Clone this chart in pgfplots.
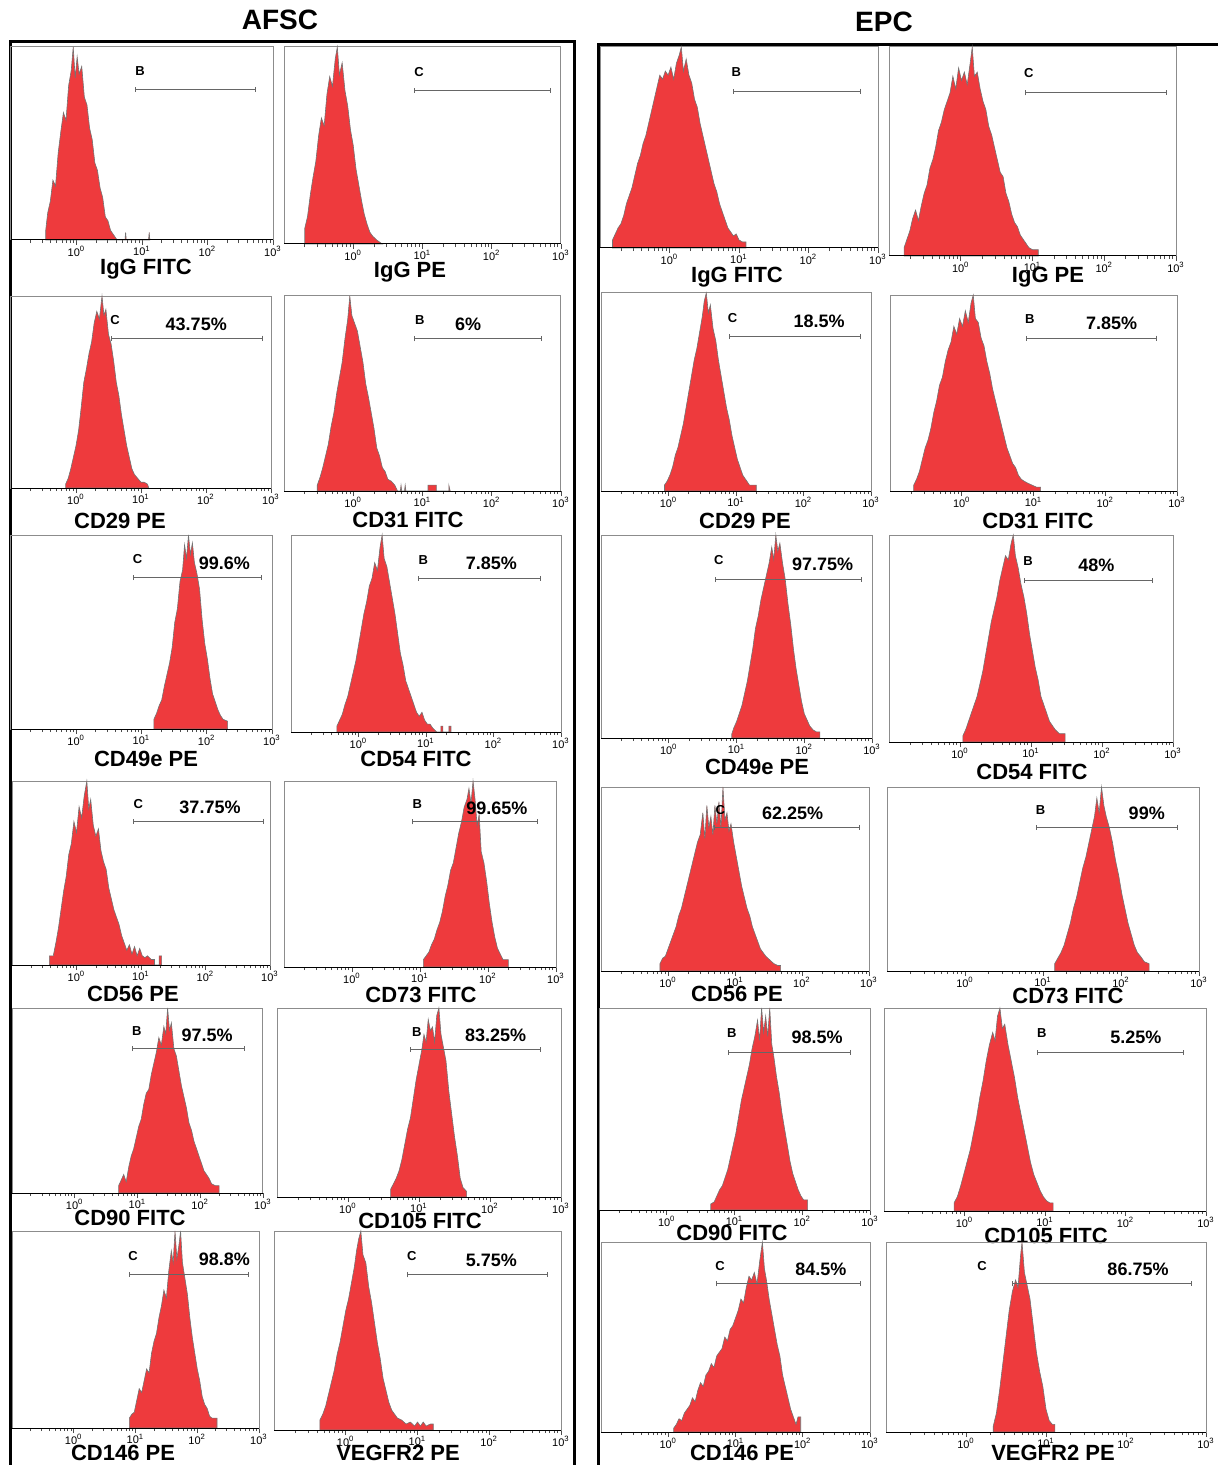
\documentclass[border=0pt]{standalone}
\usepackage{fontspec}
\setmainfont{Liberation Sans}
\usepackage{pgfplots}
\pgfplotsset{compat=1.18}
\usetikzlibrary{arrows.meta}
\definecolor{histred}{HTML}{EE3A3D}

\pgfplotsset{
 facs/.style={scale only axis, anchor=south west, xmin=-1, xmax=3, ymin=0, ymax=1, clip=false,
   xtick={0,1,2,3},
   xticklabels={10\textsuperscript{0},10\textsuperscript{1},10\textsuperscript{2},10\textsuperscript{3}},
   minor xtick={-0.699,-0.523,-0.398,-0.301,-0.222,-0.155,-0.097,-0.046,
     0.301,0.477,0.602,0.699,0.778,0.845,0.903,0.954,
     1.301,1.477,1.602,1.699,1.778,1.845,1.903,1.954,
     2.301,2.477,2.602,2.699,2.778,2.845,2.903,2.954},
   ytick=\empty, tick align=outside, xtick pos=bottom,
   major tick length=2.5pt, minor tick length=1.6pt,
   tick style={black!70, line width=0.4pt},
   axis line style={black!45, line width=0.5pt},
   xticklabel style={font=\fontsize{5.5}{6}\selectfont, inner sep=0.6pt},
 },
 pos/.style n args={4}{at={(\fpeval{#1*0.5}pt,\fpeval{-#4*0.5}pt)},
   width=\fpeval{(#3-#1)*0.5}pt, height=\fpeval{(#4-#2)*0.5}pt},
 hist/.style={sharp plot, fill=histred, draw=black!55, line width=0.3pt, line join=miter},
}
\newcommand{\base}{\draw[black, line width=0.5pt] (rel axis cs:0,0) -- (rel axis cs:1,0);}
\newcommand{\gate}[6]{%
  \draw[black!60, line width=0.5pt, {Bar[width=2.5pt]}-{Bar[width=2.5pt]}] (axis cs:#1,0.78) -- (axis cs:#2,0.78);
  \node[font=\bfseries\fontsize{6.5}{7}\selectfont] at (axis cs:#3,0.875) {#4};
  \node[font=\bfseries\fontsize{9}{10}\selectfont] at (axis cs:#5,0.855) {#6};}
\tikzset{lab/.style={font=\bfseries\fontsize{11}{13}\selectfont}}

\begin{document}
\begin{tikzpicture}[x=0.5pt,y=-0.5pt]
\useasboundingbox (0,0) rectangle (1217,1465);

% ---------- frames and titles
\node[font=\bfseries\fontsize{14}{16}\selectfont] at (280,20) {AFSC};
\node[font=\bfseries\fontsize{14}{16}\selectfont] at (884,22) {EPC};
\draw[line width=1.5pt] (10,1475) -- (10,42) -- (574,42) -- (574,1475);
\draw[line width=1.5pt] (598,1475) -- (598,45) -- (1230,45);

% ================= AFSC =================
% P1 IgG FITC
\begin{axis}[facs, pos={11}{47}{273}{240}]
\addplot[hist] coordinates {(-0.47,0)(-0.47,0.05)(-0.44,0.14)(-0.40,0.20)(-0.36,0.31)(-0.32,0.28)(-0.28,0.45)(-0.24,0.56)(-0.20,0.66)(-0.16,0.62)(-0.12,0.80)(-0.08,0.88)(-0.05,1.00)(-0.02,0.84)(0.01,0.95)(0.04,0.86)(0.08,0.90)(0.12,0.74)(0.16,0.70)(0.20,0.58)(0.24,0.52)(0.28,0.40)(0.32,0.36)(0.36,0.27)(0.40,0.22)(0.44,0.12)(0.48,0.10)(0.52,0.05)(0.56,0.03)(0.62,0)(0.74,0)(0.75,0.04)(0.76,0)(1.10,0)(1.11,0.04)(1.12,0)} \closedcycle;
\base
\gate{0.89}{2.74}{0.97}{B}{2}{}
\end{axis}
\node[lab] at (146,269) {IgG FITC};

% P2 IgG PE
\begin{axis}[facs, pos={284}{47}{561}{244}]
\addplot[hist] coordinates {(-0.70,0)(-0.70,0.08)(-0.66,0.14)(-0.62,0.25)(-0.58,0.34)(-0.54,0.42)(-0.50,0.55)(-0.46,0.64)(-0.42,0.60)(-0.38,0.76)(-0.34,0.85)(-0.30,0.80)(-0.26,0.94)(-0.23,1.00)(-0.20,0.86)(-0.16,0.92)(-0.12,0.78)(-0.08,0.70)(-0.04,0.58)(0.00,0.50)(0.04,0.38)(0.08,0.30)(0.12,0.22)(0.16,0.15)(0.20,0.10)(0.24,0.06)(0.28,0.04)(0.34,0.02)(0.42,0.00)} \closedcycle;
\base
\gate{0.88}{2.85}{0.95}{C}{2}{}
\end{axis}
\node[lab] at (410,272) {IgG PE};

% P3 CD29 PE
\begin{axis}[facs, pos={11}{296}{271}{488}]
\addplot[hist] coordinates {(-0.16,0)(-0.16,0.02)(-0.12,0.05)(-0.08,0.10)(-0.04,0.16)(0.00,0.22)(0.04,0.30)(0.08,0.42)(0.12,0.55)(0.16,0.62)(0.20,0.70)(0.24,0.76)(0.28,0.86)(0.32,0.92)(0.36,0.88)(0.40,1.00)(0.43,0.90)(0.46,0.93)(0.50,0.80)(0.54,0.75)(0.58,0.66)(0.62,0.55)(0.66,0.48)(0.70,0.38)(0.74,0.30)(0.78,0.22)(0.82,0.16)(0.86,0.10)(0.90,0.07)(0.95,0.05)(1.00,0.03)(1.05,0.03)(1.10,0.02)(1.12,0)} \closedcycle;
\base
\gate{0.54}{2.88}{0.60}{C}{1.85}{43.75\%}
\end{axis}
\node[lab] at (120,521) {CD29 PE};

% P4 CD31 FITC
\begin{axis}[facs, pos={284}{296}{561}{491}]
\addplot[hist] coordinates {(-0.52,0)(-0.52,0.03)(-0.48,0.07)(-0.44,0.12)(-0.40,0.18)(-0.36,0.24)(-0.32,0.33)(-0.28,0.40)(-0.24,0.50)(-0.20,0.58)(-0.16,0.66)(-0.12,0.78)(-0.08,0.88)(-0.05,1.00)(-0.02,0.90)(0.02,0.86)(0.06,0.82)(0.10,0.74)(0.14,0.66)(0.18,0.55)(0.22,0.48)(0.26,0.40)(0.30,0.32)(0.34,0.22)(0.38,0.18)(0.42,0.12)(0.46,0.10)(0.50,0.06)(0.55,0.05)(0.60,0.03)(0.64,0)(0.68,0)(0.69,0.03)(0.70,0)(0.74,0)(0.75,0.03)(0.76,0)(1.08,0)(1.08,0.03)(1.20,0.03)(1.20,0)(1.38,0)(1.38,0.03)(1.40,0)} \closedcycle;
\base
\gate{0.88}{2.72}{0.96}{B}{1.66}{6\%}
\end{axis}
\node[lab] at (408,520) {CD31 FITC};

% P5 CD49e PE
\begin{axis}[facs, pos={11}{535}{272}{729}]
\addplot[hist] coordinates {(1.19,0)(1.19,0.05)(1.23,0.08)(1.27,0.12)(1.31,0.15)(1.35,0.22)(1.39,0.28)(1.43,0.34)(1.47,0.42)(1.51,0.55)(1.55,0.62)(1.59,0.76)(1.63,0.82)(1.66,0.95)(1.69,0.88)(1.72,1.00)(1.75,0.90)(1.78,0.96)(1.81,0.86)(1.85,0.80)(1.89,0.72)(1.93,0.56)(1.97,0.44)(2.01,0.36)(2.05,0.26)(2.09,0.18)(2.13,0.14)(2.17,0.10)(2.21,0.07)(2.25,0.05)(2.32,0.04)(2.32,0)} \closedcycle;
\base
\gate{0.87}{2.85}{0.94}{C}{2.27}{99.6\%}
\end{axis}
\node[lab] at (146,759) {CD49e PE};

% P6 CD54 FITC
\begin{axis}[facs, pos={291}{535}{561}{732}]
\addplot[hist] coordinates {(-0.32,0)(-0.32,0.03)(-0.28,0.06)(-0.24,0.09)(-0.20,0.14)(-0.16,0.18)(-0.12,0.24)(-0.08,0.30)(-0.04,0.36)(0.00,0.44)(0.04,0.52)(0.08,0.60)(0.12,0.66)(0.16,0.74)(0.20,0.78)(0.24,0.86)(0.28,0.82)(0.32,0.94)(0.35,1.00)(0.38,0.88)(0.42,0.84)(0.46,0.76)(0.50,0.68)(0.54,0.60)(0.58,0.50)(0.62,0.40)(0.66,0.34)(0.70,0.26)(0.74,0.22)(0.78,0.18)(0.82,0.14)(0.86,0.10)(0.90,0.08)(0.94,0.10)(0.98,0.06)(1.02,0.04)(1.06,0.04)(1.10,0.02)(1.16,0)(1.22,0)(1.22,0.03)(1.25,0.03)(1.25,0)(1.34,0)(1.34,0.03)(1.37,0.03)(1.37,0)} \closedcycle;
\base
\gate{0.88}{2.70}{0.96}{B}{1.97}{7.85\%}
\end{axis}
\node[lab] at (416,759) {CD54 FITC};

% P7 CD56 PE
\begin{axis}[facs, pos={12}{781}{270}{965}]
\addplot[hist] coordinates {(-0.42,0)(-0.42,0.05)(-0.36,0.05)(-0.32,0.12)(-0.28,0.20)(-0.24,0.30)(-0.20,0.40)(-0.16,0.48)(-0.12,0.60)(-0.08,0.66)(-0.04,0.78)(0.00,0.72)(0.04,0.86)(0.08,0.80)(0.12,0.92)(0.16,1.00)(0.19,0.85)(0.22,0.90)(0.26,0.76)(0.30,0.70)(0.34,0.74)(0.38,0.62)(0.42,0.56)(0.46,0.52)(0.50,0.42)(0.54,0.36)(0.58,0.30)(0.62,0.26)(0.66,0.22)(0.70,0.16)(0.74,0.12)(0.78,0.08)(0.82,0.11)(0.86,0.06)(0.90,0.10)(0.94,0.05)(0.98,0.09)(1.02,0.05)(1.06,0.04)(1.10,0.05)(1.16,0.03)(1.21,0.03)(1.21,0)(1.28,0)(1.28,0.05)(1.32,0.05)(1.32,0)} \closedcycle;
\base
\gate{0.88}{2.90}{0.96}{C}{2.07}{37.75\%}
\end{axis}
\node[lab] at (133,994) {CD56 PE};

% P8 CD73 FITC
\begin{axis}[facs, pos={284}{781}{556}{967}]
\addplot[hist] coordinates {(1.05,0)(1.05,0.04)(1.09,0.06)(1.13,0.08)(1.17,0.12)(1.21,0.15)(1.25,0.20)(1.29,0.24)(1.33,0.30)(1.37,0.38)(1.41,0.44)(1.45,0.52)(1.49,0.56)(1.53,0.64)(1.57,0.72)(1.61,0.78)(1.65,0.86)(1.69,0.90)(1.72,0.96)(1.75,0.88)(1.78,1.00)(1.81,0.90)(1.84,0.76)(1.87,0.82)(1.90,0.62)(1.94,0.56)(1.98,0.46)(2.02,0.34)(2.06,0.24)(2.10,0.16)(2.14,0.10)(2.18,0.07)(2.22,0.04)(2.27,0.04)(2.30,0.04)(2.30,0)} \closedcycle;
\base
\gate{0.88}{2.73}{0.96}{B}{2.13}{99.65\%}
\end{axis}
\node[lab] at (421,995) {CD73 FITC};

% P9 CD90 FITC
\begin{axis}[facs, pos={12}{1008}{263}{1193}]
\addplot[hist] coordinates {(0.70,0)(0.70,0.04)(0.74,0.07)(0.78,0.10)(0.82,0.06)(0.86,0.14)(0.90,0.20)(0.94,0.24)(0.98,0.30)(1.02,0.36)(1.06,0.40)(1.10,0.48)(1.14,0.54)(1.18,0.56)(1.22,0.64)(1.26,0.70)(1.30,0.76)(1.34,0.84)(1.38,0.80)(1.42,0.90)(1.45,0.86)(1.48,1.00)(1.51,0.88)(1.54,0.92)(1.58,0.78)(1.62,0.74)(1.66,0.66)(1.70,0.58)(1.74,0.52)(1.78,0.46)(1.82,0.38)(1.86,0.34)(1.90,0.28)(1.94,0.24)(1.98,0.20)(2.02,0.16)(2.06,0.12)(2.10,0.10)(2.14,0.08)(2.18,0.05)(2.24,0.04)(2.30,0.04)(2.30,0)} \closedcycle;
\base
\gate{0.91}{2.72}{0.99}{B}{2.11}{97.5\%}
\end{axis}
\node[lab] at (130,1218) {CD90 FITC};

% P10 CD105 FITC
\begin{axis}[facs, pos={277}{1008}{561}{1197}]
\addplot[hist] coordinates {(0.60,0)(0.60,0.04)(0.64,0.07)(0.68,0.10)(0.72,0.14)(0.76,0.20)(0.80,0.28)(0.84,0.36)(0.88,0.42)(0.92,0.52)(0.96,0.62)(1.00,0.70)(1.04,0.78)(1.07,0.86)(1.10,0.82)(1.13,0.94)(1.16,0.88)(1.19,0.90)(1.22,0.82)(1.25,0.96)(1.28,1.00)(1.31,0.86)(1.34,0.80)(1.38,0.72)(1.42,0.56)(1.46,0.44)(1.50,0.32)(1.54,0.22)(1.58,0.10)(1.62,0.05)(1.67,0.03)(1.67,0)} \closedcycle;
\base
\gate{0.88}{2.72}{0.97}{B}{2.08}{83.25\%}
\end{axis}
\node[lab] at (420,1221) {CD105 FITC};

% P11 CD146 PE
\begin{axis}[facs, pos={12}{1231}{259}{1428}]
\addplot[hist] coordinates {(0.90,0)(0.90,0.05)(0.94,0.07)(0.98,0.08)(1.02,0.14)(1.06,0.20)(1.10,0.18)(1.14,0.24)(1.18,0.30)(1.22,0.28)(1.26,0.38)(1.30,0.44)(1.34,0.48)(1.38,0.56)(1.42,0.62)(1.46,0.70)(1.50,0.66)(1.54,0.80)(1.58,0.90)(1.61,0.84)(1.64,1.00)(1.67,0.86)(1.70,0.92)(1.73,1.00)(1.76,0.84)(1.80,0.76)(1.84,0.68)(1.88,0.56)(1.92,0.46)(1.96,0.38)(2.00,0.30)(2.04,0.24)(2.08,0.16)(2.12,0.12)(2.16,0.10)(2.20,0.06)(2.24,0.05)(2.32,0.05)(2.32,0)} \closedcycle;
\base
\gate{0.90}{2.84}{0.96}{C}{2.44}{98.8\%}
\end{axis}
\node[lab] at (123,1453) {CD146 PE};

% P12 VEGFR2 PE
\begin{axis}[facs, pos={274}{1231}{561}{1430}]
\addplot[hist] coordinates {(-0.36,0)(-0.36,0.05)(-0.32,0.08)(-0.28,0.12)(-0.24,0.18)(-0.20,0.24)(-0.16,0.30)(-0.12,0.38)(-0.08,0.44)(-0.04,0.52)(0.00,0.60)(0.04,0.66)(0.08,0.74)(0.12,0.82)(0.15,0.90)(0.18,0.96)(0.21,1.00)(0.24,0.88)(0.28,0.84)(0.32,0.72)(0.36,0.64)(0.40,0.54)(0.44,0.44)(0.48,0.36)(0.52,0.26)(0.56,0.20)(0.60,0.14)(0.64,0.10)(0.68,0.08)(0.72,0.06)(0.78,0.05)(0.84,0.03)(0.90,0.04)(0.96,0.02)(1.00,0.04)(1.04,0.02)(1.08,0.04)(1.12,0.02)(1.18,0.03)(1.22,0.03)(1.22,0)} \closedcycle;
\base
\gate{0.85}{2.82}{0.92}{C}{2.03}{5.75\%}
\end{axis}
\node[lab] at (398,1453) {VEGFR2 PE};

% ================= EPC =================
% P13 IgG FITC
\begin{axis}[facs, pos={600}{47}{878}{248}]
\addplot[hist] coordinates {(-0.82,0)(-0.82,0.04)(-0.78,0.07)(-0.74,0.10)(-0.70,0.12)(-0.66,0.16)(-0.62,0.22)(-0.58,0.26)(-0.54,0.30)(-0.50,0.36)(-0.46,0.42)(-0.42,0.46)(-0.38,0.52)(-0.34,0.56)(-0.30,0.62)(-0.26,0.68)(-0.22,0.74)(-0.18,0.80)(-0.14,0.86)(-0.10,0.84)(-0.06,0.88)(-0.02,0.86)(0.02,0.90)(0.06,0.84)(0.10,0.92)(0.14,0.96)(0.17,1.00)(0.20,0.88)(0.24,0.94)(0.28,0.86)(0.32,0.82)(0.36,0.74)(0.40,0.70)(0.44,0.62)(0.48,0.56)(0.52,0.50)(0.56,0.44)(0.60,0.38)(0.64,0.32)(0.68,0.28)(0.72,0.22)(0.76,0.18)(0.80,0.14)(0.84,0.10)(0.88,0.08)(0.92,0.06)(0.96,0.07)(1.00,0.04)(1.05,0.03)(1.10,0.03)(1.10,0)} \closedcycle;
\base
\gate{0.91}{2.75}{0.96}{B}{2}{}
\end{axis}
\node[lab] at (737,277) {IgG FITC};

% P14 IgG PE
\begin{axis}[facs, pos={889}{47}{1176}{256}]
\addplot[hist] coordinates {(-0.79,0)(-0.79,0.04)(-0.75,0.08)(-0.71,0.12)(-0.67,0.18)(-0.63,0.22)(-0.59,0.17)(-0.55,0.24)(-0.51,0.30)(-0.47,0.34)(-0.43,0.42)(-0.39,0.46)(-0.35,0.52)(-0.31,0.60)(-0.27,0.64)(-0.23,0.70)(-0.19,0.74)(-0.15,0.78)(-0.11,0.86)(-0.07,0.80)(-0.03,0.90)(0.01,0.84)(0.05,0.88)(0.09,0.82)(0.13,0.92)(0.16,1.00)(0.19,0.86)(0.23,0.88)(0.27,0.80)(0.31,0.74)(0.35,0.70)(0.39,0.62)(0.43,0.58)(0.47,0.52)(0.51,0.46)(0.55,0.40)(0.59,0.38)(0.63,0.30)(0.67,0.26)(0.71,0.20)(0.75,0.16)(0.79,0.14)(0.83,0.10)(0.87,0.08)(0.91,0.06)(0.95,0.04)(1.00,0.03)(1.08,0.03)(1.08,0)} \closedcycle;
\base
\gate{0.90}{2.88}{0.95}{C}{2}{}
\end{axis}
\node[lab] at (1048,277) {IgG PE};

% P15 CD29 PE
\begin{axis}[facs, pos={601}{293}{871}{491}]
\addplot[hist] coordinates {(-0.06,0)(-0.06,0.03)(-0.02,0.05)(0.02,0.08)(0.06,0.12)(0.10,0.18)(0.14,0.22)(0.18,0.28)(0.22,0.34)(0.26,0.42)(0.30,0.50)(0.34,0.58)(0.38,0.66)(0.42,0.72)(0.46,0.80)(0.50,0.88)(0.53,0.96)(0.56,1.00)(0.59,0.90)(0.62,0.94)(0.66,0.82)(0.70,0.76)(0.74,0.66)(0.78,0.58)(0.82,0.50)(0.86,0.42)(0.90,0.36)(0.94,0.28)(0.98,0.22)(1.02,0.16)(1.06,0.12)(1.10,0.08)(1.14,0.06)(1.20,0.03)(1.30,0.03)(1.30,0)} \closedcycle;
\base
\gate{0.89}{2.85}{0.95}{C}{2.23}{18.5\%}
\end{axis}
\node[lab] at (745,521) {CD29 PE};

% P16 CD31 FITC
\begin{axis}[facs, pos={890}{295}{1177}{491}]
\addplot[hist] coordinates {(-0.67,0)(-0.67,0.03)(-0.63,0.06)(-0.59,0.10)(-0.55,0.16)(-0.51,0.22)(-0.47,0.26)(-0.43,0.32)(-0.39,0.40)(-0.35,0.46)(-0.31,0.54)(-0.27,0.58)(-0.23,0.66)(-0.19,0.72)(-0.15,0.76)(-0.11,0.84)(-0.07,0.80)(-0.03,0.88)(0.01,0.84)(0.05,0.92)(0.09,0.86)(0.13,0.96)(0.16,1.00)(0.19,0.88)(0.23,0.86)(0.27,0.78)(0.31,0.74)(0.35,0.66)(0.39,0.60)(0.43,0.52)(0.47,0.46)(0.51,0.40)(0.55,0.34)(0.59,0.28)(0.63,0.22)(0.67,0.18)(0.71,0.14)(0.75,0.12)(0.79,0.08)(0.83,0.06)(0.87,0.05)(0.92,0.04)(0.98,0.03)(1.04,0.02)(1.10,0.02)(1.10,0)} \closedcycle;
\base
\gate{0.90}{2.72}{0.95}{B}{2.09}{7.85\%}
\end{axis}
\node[lab] at (1038,521) {CD31 FITC};

% P17 CD49e PE
\begin{axis}[facs, pos={601}{535}{872}{738}]
\addplot[hist] coordinates {(0.93,0)(0.93,0.02)(0.96,0.05)(1.00,0.08)(1.04,0.12)(1.08,0.16)(1.12,0.22)(1.16,0.28)(1.20,0.36)(1.24,0.44)(1.28,0.54)(1.32,0.60)(1.36,0.68)(1.40,0.74)(1.44,0.80)(1.48,0.86)(1.52,0.94)(1.55,0.88)(1.58,1.00)(1.61,0.92)(1.64,0.96)(1.68,0.86)(1.72,0.78)(1.76,0.66)(1.80,0.56)(1.84,0.44)(1.88,0.34)(1.92,0.26)(1.96,0.18)(2.00,0.12)(2.04,0.09)(2.08,0.06)(2.13,0.04)(2.18,0.03)(2.23,0.03)(2.23,0)} \closedcycle;
\base
\gate{0.68}{2.85}{0.74}{C}{2.27}{97.75\%}
\end{axis}
\node[lab] at (757,767) {CD49e PE};

% P18 CD54 FITC
\begin{axis}[facs, pos={889}{535}{1173}{742}]
\addplot[hist] coordinates {(0.04,0)(0.04,0.03)(0.08,0.06)(0.12,0.10)(0.16,0.14)(0.20,0.18)(0.24,0.22)(0.28,0.28)(0.32,0.34)(0.36,0.42)(0.40,0.50)(0.44,0.58)(0.48,0.64)(0.52,0.70)(0.56,0.78)(0.60,0.84)(0.64,0.90)(0.68,0.88)(0.72,0.96)(0.75,1.00)(0.78,0.90)(0.82,0.84)(0.86,0.76)(0.90,0.70)(0.94,0.62)(0.98,0.52)(1.02,0.44)(1.06,0.36)(1.10,0.30)(1.14,0.22)(1.18,0.18)(1.22,0.14)(1.26,0.10)(1.30,0.08)(1.34,0.06)(1.40,0.04)(1.48,0.04)(1.48,0)} \closedcycle;
\base
\gate{0.90}{2.72}{0.96}{B}{1.92}{48\%}
\end{axis}
\node[lab] at (1032,772) {CD54 FITC};

% P19 CD56 PE
\begin{axis}[facs, pos={601}{787}{869}{971}]
\addplot[hist] coordinates {(-0.12,0)(-0.12,0.04)(-0.08,0.07)(-0.04,0.08)(0.00,0.12)(0.04,0.16)(0.08,0.20)(0.12,0.24)(0.16,0.30)(0.20,0.34)(0.24,0.40)(0.28,0.46)(0.32,0.52)(0.36,0.58)(0.40,0.64)(0.44,0.70)(0.48,0.74)(0.52,0.86)(0.55,0.72)(0.58,0.90)(0.61,0.78)(0.64,0.84)(0.67,0.74)(0.70,0.90)(0.73,0.80)(0.76,0.92)(0.79,0.78)(0.82,1.00)(0.85,0.82)(0.88,0.86)(0.91,0.76)(0.94,0.80)(0.98,0.70)(1.02,0.62)(1.06,0.54)(1.10,0.46)(1.14,0.40)(1.18,0.34)(1.22,0.30)(1.26,0.24)(1.30,0.20)(1.34,0.16)(1.38,0.12)(1.42,0.10)(1.46,0.08)(1.52,0.06)(1.58,0.04)(1.64,0.03)(1.68,0.03)(1.68,0)} \closedcycle;
\base
\gate{0.69}{2.86}{0.78}{C}{1.86}{62.25\%}
\end{axis}
\node[lab] at (737,994) {CD56 PE};

% P20 CD73 FITC
\begin{axis}[facs, pos={887}{787}{1199}{971}]
\addplot[hist] coordinates {(1.15,0)(1.15,0.04)(1.19,0.07)(1.23,0.10)(1.27,0.14)(1.31,0.20)(1.35,0.26)(1.39,0.34)(1.43,0.40)(1.47,0.48)(1.51,0.56)(1.55,0.62)(1.59,0.70)(1.63,0.78)(1.66,0.84)(1.69,0.94)(1.72,0.86)(1.75,1.00)(1.78,0.90)(1.81,0.84)(1.85,0.78)(1.89,0.70)(1.93,0.60)(1.97,0.52)(2.01,0.42)(2.05,0.34)(2.09,0.26)(2.13,0.20)(2.17,0.14)(2.21,0.10)(2.25,0.08)(2.30,0.05)(2.36,0.04)(2.36,0)} \closedcycle;
\base
\gate{0.91}{2.73}{0.97}{B}{2.33}{99\%}
\end{axis}
\node[lab] at (1068,996) {CD73 FITC};

% P21 CD90 FITC
\begin{axis}[facs, pos={599}{1008}{870}{1210}]
\addplot[hist] coordinates {(0.65,0)(0.65,0.03)(0.70,0.04)(0.74,0.07)(0.78,0.10)(0.82,0.12)(0.86,0.16)(0.90,0.20)(0.94,0.26)(0.98,0.32)(1.02,0.38)(1.06,0.46)(1.10,0.54)(1.14,0.60)(1.18,0.66)(1.22,0.72)(1.26,0.80)(1.30,0.86)(1.34,0.94)(1.37,0.84)(1.40,1.00)(1.43,0.88)(1.46,0.96)(1.49,0.86)(1.52,1.00)(1.55,0.82)(1.58,0.76)(1.62,0.66)(1.66,0.58)(1.70,0.48)(1.74,0.40)(1.78,0.32)(1.82,0.24)(1.86,0.18)(1.90,0.14)(1.94,0.10)(1.98,0.07)(2.02,0.05)(2.08,0.05)(2.08,0)} \closedcycle;
\base
\gate{0.90}{2.72}{0.96}{B}{2.22}{98.5\%}
\end{axis}
\node[lab] at (732,1233) {CD90 FITC};

% P22 CD105 FITC
\begin{axis}[facs, pos={884}{1008}{1206}{1211}]
\addplot[hist] coordinates {(-0.13,0)(-0.13,0.04)(-0.09,0.07)(-0.05,0.12)(-0.01,0.18)(0.03,0.24)(0.07,0.30)(0.11,0.38)(0.15,0.46)(0.19,0.56)(0.23,0.64)(0.27,0.74)(0.31,0.82)(0.35,0.88)(0.38,0.84)(0.41,0.96)(0.44,1.00)(0.47,0.90)(0.50,0.92)(0.54,0.82)(0.58,0.74)(0.62,0.66)(0.66,0.56)(0.70,0.48)(0.74,0.40)(0.78,0.32)(0.82,0.24)(0.86,0.18)(0.90,0.14)(0.94,0.10)(0.98,0.07)(1.02,0.05)(1.06,0.04)(1.10,0.04)(1.10,0)} \closedcycle;
\base
\gate{0.90}{2.73}{0.96}{B}{2.13}{5.25\%}
\end{axis}
\node[lab] at (1046,1236) {CD105 FITC};

% P23 CD146 PE
\begin{axis}[facs, pos={601}{1242}{870}{1432}]
\addplot[hist] coordinates {(0.08,0)(0.08,0.02)(0.12,0.04)(0.16,0.07)(0.20,0.06)(0.24,0.10)(0.28,0.12)(0.32,0.14)(0.36,0.18)(0.40,0.16)(0.44,0.22)(0.48,0.26)(0.52,0.24)(0.56,0.30)(0.60,0.32)(0.64,0.36)(0.68,0.34)(0.72,0.40)(0.76,0.42)(0.80,0.44)(0.84,0.50)(0.88,0.48)(0.92,0.54)(0.96,0.56)(1.00,0.60)(1.04,0.64)(1.08,0.70)(1.12,0.68)(1.16,0.76)(1.20,0.82)(1.24,0.80)(1.28,0.84)(1.32,0.78)(1.36,0.90)(1.40,1.00)(1.43,0.86)(1.46,0.80)(1.50,0.70)(1.54,0.62)(1.58,0.54)(1.62,0.46)(1.66,0.40)(1.70,0.30)(1.74,0.24)(1.78,0.18)(1.82,0.12)(1.86,0.08)(1.90,0.04)(1.93,0.08)(1.97,0.08)(1.97,0)} \closedcycle;
\base
\gate{0.71}{2.87}{0.77}{C}{2.27}{84.5\%}
\end{axis}
\node[lab] at (742,1453) {CD146 PE};

% P24 VEGFR2 PE
\begin{axis}[facs, pos={886}{1242}{1206}{1432}]
\addplot[hist] coordinates {(0.34,0)(0.34,0.03)(0.38,0.10)(0.42,0.22)(0.46,0.36)(0.50,0.50)(0.54,0.64)(0.58,0.74)(0.62,0.80)(0.65,0.76)(0.68,0.92)(0.70,1.00)(0.73,0.84)(0.76,0.78)(0.80,0.70)(0.84,0.56)(0.88,0.42)(0.92,0.32)(0.96,0.24)(1.00,0.12)(1.04,0.06)(1.08,0.04)(1.11,0.04)(1.11,0)} \closedcycle;
\base
\gate{0.58}{2.83}{0.20}{C}{2.15}{86.75\%}
\end{axis}
\node[lab] at (1053,1453) {VEGFR2 PE};

\end{tikzpicture}
\end{document}
